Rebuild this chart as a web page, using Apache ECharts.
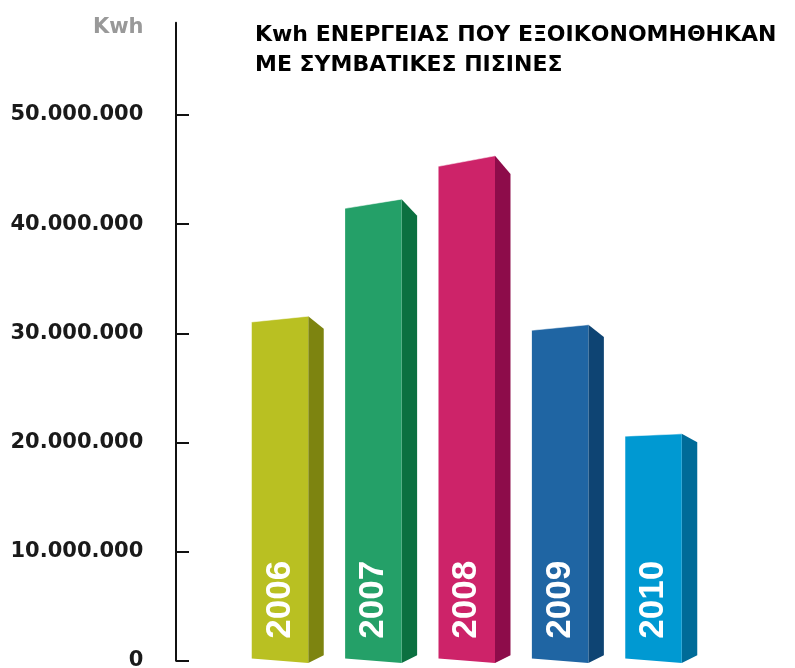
<!DOCTYPE html>
<html>
<head>
<meta charset="utf-8">
<script src="https://cdn.jsdelivr.net/npm/echarts@6/dist/echarts.min.js"></script>
<style>
html,body{margin:0;padding:0;background:#fff;}
#chart{width:795px;height:668px;}
</style>
</head>
<body>
<div id="chart"></div>
<script>
const categories = ['2006', '2007', '2008', '2009', '2010'];
const savedKwh = [31300000, 41870000, 45780000, 30530000, 20680000];
const yTickValues = [0, 10000000, 20000000, 30000000, 40000000, 50000000];
const unitLabel = 'Kwh';
const titleLines = ['Kwh ΕΝΕΡΓΕΙΑΣ ΠΟΥ ΕΞΟΙΚΟΝΟΜΗΘΗΚΑΝ', 'ΜΕ ΣΥΜΒΑΤΙΚΕΣ ΠΙΣΙΝΕΣ'];

const frontColors = ['#b9c022', '#24a068', '#cd2369', '#1f65a3', '#0099d2'];
const sideColors = ['#7d8410', '#0b7040', '#8d0c4a', '#0e4473', '#006b98'];

function fmt(v) {
  return String(Math.round(v)).replace(/\B(?=(\d{3})+(?!\d))/g, '.');
}

const chart = echarts.init(document.getElementById('chart'), null, {renderer: 'canvas'});

function renderItem(params, api) {
  const i = api.value(0);
  const v = api.value(1);
  const top = api.coord([i, v]);
  const base = api.coord([i, 0]);
  const band = api.size([1, 0])[0];
  const w = band * 0.605;
  const cx = top[0];
  const xl = cx - w / 2, xr = cx + w / 2;
  const horizon = base[1] - 149;
  const p = 0.015;
  const persp = (y, s) => horizon + (y - horizon) * s;
  const ytl = persp(top[1], 1 - p), ytr = persp(top[1], 1 + p);
  const ybl = persp(base[1], 1 - p), ybr = persp(base[1], 1 + p);
  const sw = 15.5;
  const h2 = base[1] + 13;
  const yst = h2 + (ytr - h2) * 0.965;
  const ysb = ybr - 7.7;
  return {
    type: 'group',
    children: [
      {
        type: 'polygon',
        shape: {points: [[xr, ybr], [xr + sw, ysb], [xr + sw, yst], [xr, ytr]]},
        style: {fill: sideColors[i]}
      },
      {
        type: 'polygon',
        shape: {points: [[xl, ybl], [xr, ybr], [xr, ytr], [xl, ytl]]},
        style: {fill: frontColors[i]}
      },
      {
        type: 'polyline',
        shape: {points: [[xl, ytl], [xr, ytr]]},
        style: {stroke: 'rgba(255,255,255,0.55)', lineWidth: 1, fill: null}
      },
      {
        type: 'text',
        x: cx,
        y: base[1] - 61,
        rotation: Math.PI / 2,
        style: {
          text: categories[i],
          fill: '#ffffff',
          font: 'bold 35px "Liberation Sans", Arial, sans-serif',
          align: 'center',
          verticalAlign: 'middle'
        }
      }
    ]
  };
}

const option = {
  animation: false,
  backgroundColor: '#ffffff',
  title: {
    text: titleLines.join('\n'),
    left: 255,
    top: 20,
    padding: 0,
    textStyle: {
      fontFamily: '"DejaVu Sans", sans-serif',
      fontWeight: 'bold',
      fontSize: 22,
      lineHeight: 30,
      color: '#000000'
    }
  },
  graphic: [
    {
      type: 'text',
      x: 143.5,
      y: 28,
      style: {
        text: unitLabel,
        fill: '#999999',
        font: 'bold 21px "DejaVu Sans", sans-serif',
        align: 'right',
        verticalAlign: 'middle'
      }
    }
  ],
  grid: {
    left: 233.3,
    right: 94.8,
    top: 22.7,
    bottom: 7.3,
    containLabel: false,
    outerBoundsMode: 'none'
  },
  xAxis: {
    type: 'category',
    data: categories,
    show: false
  },
  yAxis: {
    type: 'value',
    min: 0,
    max: 58460000,
    offset: 57.3,
    axisLine: {show: true, lineStyle: {color: '#111111', width: 2}},
    axisTick: {
      show: true,
      inside: true,
      length: 13,
      lineStyle: {color: '#111111', width: 2},
      customValues: yTickValues
    },
    axisLabel: {
      show: true,
      margin: 32.7,
      color: '#1a1a1a',
      fontFamily: '"DejaVu Sans", sans-serif',
      fontWeight: 'bold',
      fontSize: 21,
      customValues: yTickValues,
      formatter: function (v) { return fmt(v); }
    },
    splitLine: {show: false}
  },
  series: [
    {
      type: 'custom',
      clip: false,
      renderItem: renderItem,
      encode: {x: 0, y: 1},
      data: savedKwh.map(function (v, i) { return [i, v]; })
    }
  ]
};

chart.setOption(option);
</script>
</body>
</html>
